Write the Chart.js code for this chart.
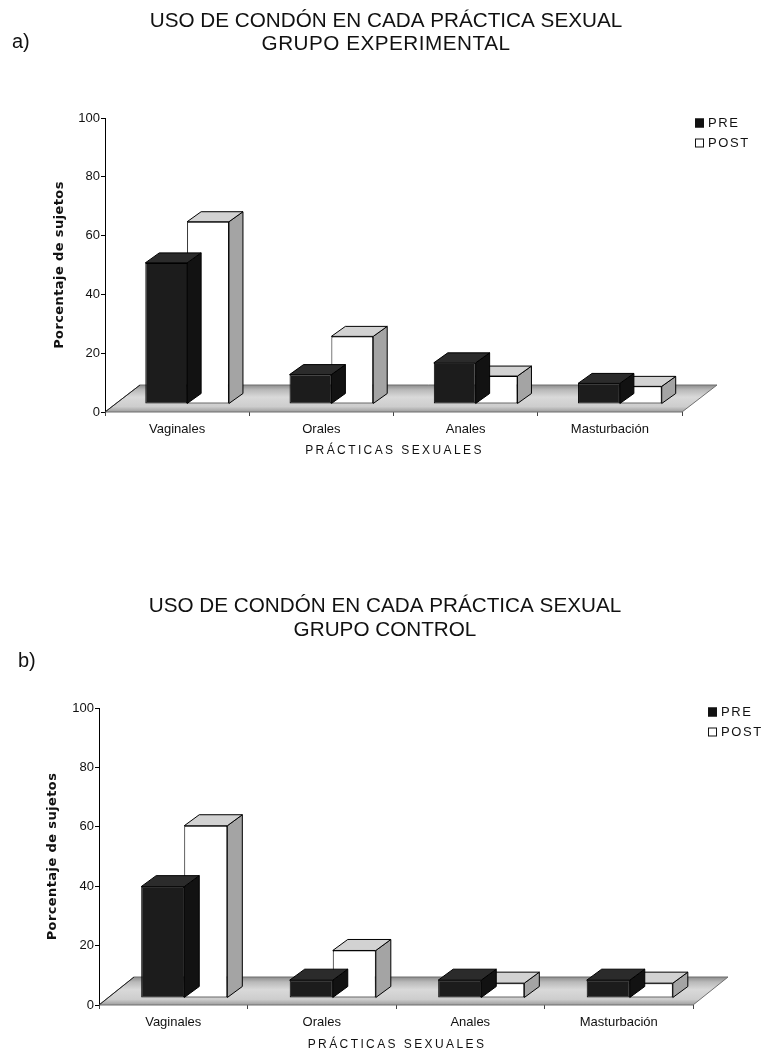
<!DOCTYPE html>
<html>
<head>
<meta charset="utf-8">
<script src="https://cdn.jsdelivr.net/npm/chart.js@4.4.1/dist/chart.umd.min.js"></script>
<style>
  html, body { margin: 0; padding: 0; background: #ffffff; }
  body { position: relative; width: 766px; height: 1054px; overflow: hidden; }
  .panel { position: absolute; left: 0; width: 766px; height: 527px; }
  .tag { position: absolute; font: 20px 'Liberation Sans', Arial, sans-serif; color: #111; }
</style>
</head>
<body>
<div class="panel" style="top:0"><canvas id="grafA" width="766" height="527"></canvas></div>
<div class="panel" style="top:527px"><canvas id="grafB" width="766" height="527"></canvas></div>
<div class="tag" style="left:12px; top:30px;">a)</div>
<div class="tag" style="left:18px; top:649px;">b)</div>
<script>
// Prácticas sexuales evaluadas
const practicas = ['Vaginales', 'Orales', 'Anales', 'Masturbación'];
const serieNombres = ['PRE', 'POST'];

// Porcentaje de sujetos que usa condón (grupo experimental)
const experimentalPre = [48, 10, 14, 7];
const experimentalPost = [62, 23, 9.5, 6];

// Porcentaje de sujetos que usa condón (grupo control)
const controlPre = [37.5, 6, 6, 6];
const controlPost = [58, 16, 5, 5];

// Marcas del eje de porcentaje
const porcentajeTicks = [0, 20, 40, 60, 80, 100];

const tituloComun = 'USO DE CONDÓN EN CADA PRÁCTICA SEXUAL';
const grupos = ['GRUPO EXPERIMENTAL', 'GRUPO CONTROL'];
const ejeX = 'PRÁCTICAS SEXUALES';
const ejeY = 'Porcentaje de sujetos';

const FAMILY = "'Liberation Sans', Arial, sans-serif";

// Oblique 3-D look: floor slab, bar top faces and side faces
const caja3d = {
  id: 'caja3d',
  beforeDatasetsDraw(chart, args, o) {
    const { ctx } = chart;
    const sx = chart.scales.x, sy = chart.scales.y;
    const y0 = sy.getPixelForValue(0);
    const fx = o.floor.x, fy = o.floor.y;
    ctx.save();
    ctx.beginPath();
    ctx.moveTo(sx.left, y0);
    ctx.lineTo(sx.right, y0);
    ctx.lineTo(sx.right + fx, y0 - fy);
    ctx.lineTo(sx.left + fx, y0 - fy);
    ctx.closePath();
    const g = ctx.createLinearGradient(0, y0 - fy, 0, y0);
    g.addColorStop(0, '#8c8c8c');
    g.addColorStop(0.18, '#b9b9b9');
    g.addColorStop(0.45, '#d9d9d9');
    g.addColorStop(0.8, '#cdcdcd');
    g.addColorStop(1, '#9c9c9c');
    ctx.fillStyle = g;
    ctx.fill();
    ctx.strokeStyle = '#6f6f6f';
    ctx.lineWidth = 1;
    ctx.stroke();
    ctx.beginPath();
    ctx.moveTo(sx.left, y0);
    ctx.lineTo(sx.left + fx, y0 - fy);
    ctx.strokeStyle = '#222';
    ctx.stroke();
    ctx.restore();
    // bars stand back from the front edge of the floor
    ctx.save();
    ctx.translate(o.shift.x, -o.shift.y);
  },
  afterDatasetDraw(chart, args, o) {
    const { ctx } = chart;
    const ds = chart.data.datasets[args.index];
    const dx = o.depth.x, dy = o.depth.y;
    args.meta.data.forEach(bar => {
      const p = bar.getProps(['x', 'y', 'base', 'width'], true);
      const l = p.x - p.width / 2, r = p.x + p.width / 2;
      const t = p.y, b = p.base;
      ctx.save();
      ctx.lineWidth = 1;
      ctx.strokeStyle = '#000';
      ctx.lineJoin = 'round';
      // side face
      ctx.beginPath();
      ctx.moveTo(r, t);
      ctx.lineTo(r + dx, t - dy);
      ctx.lineTo(r + dx, b - dy);
      ctx.lineTo(r, b);
      ctx.closePath();
      ctx.fillStyle = ds.sideColor;
      ctx.fill();
      ctx.stroke();
      // top face
      ctx.beginPath();
      ctx.moveTo(l, t);
      ctx.lineTo(l + dx, t - dy);
      ctx.lineTo(r + dx, t - dy);
      ctx.lineTo(r, t);
      ctx.closePath();
      ctx.fillStyle = ds.topColor;
      ctx.fill();
      ctx.stroke();
      ctx.restore();
    });
  },
  afterDatasetsDraw(chart) {
    chart.ctx.restore();
  }
};

// Two-line heading, axis titles and the small legend at the upper right
const rotulos = {
  id: 'rotulos',
  afterDraw(chart, args, o) {
    const { ctx, chartArea } = chart;
    const sx = chart.scales.x;
    ctx.save();
    ctx.fillStyle = '#111';
    ctx.textAlign = 'center';
    ctx.textBaseline = 'middle';
    // heading
    ctx.font = '20.7px ' + FAMILY;
    ctx.letterSpacing = '0px';
    ctx.fillText(o.heading[0], o.headingX, o.headingY[0]);
    ctx.letterSpacing = o.headingSpacing + 'px';
    ctx.fillText(o.heading[1], o.headingX, o.headingY[1]);
    // value axis title
    ctx.font = "bold 13px 'DejaVu Sans', Verdana, sans-serif";
    ctx.letterSpacing = '0.4px';
    ctx.save();
    ctx.translate(o.yTitleX, (chartArea.top + chartArea.bottom) / 2);
    ctx.rotate(-Math.PI / 2);
    ctx.fillText(ejeY, 0, 0);
    ctx.restore();
    // category axis title
    ctx.font = '12px ' + FAMILY;
    ctx.letterSpacing = '2.4px';
    ctx.fillText(ejeX, (sx.left + sx.right) / 2 + 1, o.xTitleY);
    // legend
    ctx.font = '13px ' + FAMILY;
    ctx.letterSpacing = '1.6px';
    ctx.textAlign = 'left';
    chart.data.datasets.forEach((ds, i) => {
      const yy = o.legend.y + i * o.legend.gap;
      ctx.fillStyle = ds.legendFill;
      ctx.fillRect(o.legend.x, yy - 4.5, 9, 9);
      ctx.strokeStyle = '#111';
      ctx.lineWidth = 1;
      ctx.strokeRect(o.legend.x + 0.5, yy - 4, 8, 8);
      ctx.fillStyle = '#111';
      ctx.fillText(ds.label, o.legend.x + 13, yy + 0.5);
    });
    ctx.restore();
  }
};

function crearGrafico(id, grupo, pre, post, L) {
  const tickFont = { family: FAMILY, size: 13 };
  return new Chart(document.getElementById(id), {
    type: 'bar',
    data: {
      labels: practicas,
      datasets: [
        {
          label: serieNombres[0], data: pre,
          backgroundColor: '#1c1c1c', borderColor: '#000', borderWidth: 1,
          topColor: '#2b2b2b', sideColor: '#121212', legendFill: '#111'
        },
        {
          label: serieNombres[1], data: post,
          backgroundColor: '#ffffff', borderColor: '#000', borderWidth: 1,
          topColor: '#d2d2d2', sideColor: '#a4a4a4', legendFill: '#ffffff'
        }
      ]
    },
    options: {
      responsive: false,
      animation: false,
      devicePixelRatio: 1,
      layout: { padding: { left: L.padL, right: L.padR, top: L.padT, bottom: L.padB } },
      datasets: {
        bar: { categoryPercentage: 0.58, barPercentage: 1, borderSkipped: false, clip: false }
      },
      scales: {
        x: {
          offset: true,
          border: { display: false },
          grid: { display: true, offset: true, drawOnChartArea: false, drawTicks: true, tickLength: 4, color: '#444' },
          ticks: { font: tickFont, color: '#111', padding: 6, maxRotation: 0 },
          afterFit: s => { s.height = L.xH; }
        },
        y: {
          min: 0, max: 100,
          border: { display: true, color: '#000', width: 1 },
          grid: { drawOnChartArea: false, drawTicks: true, tickLength: 4, color: '#000' },
          ticks: { font: tickFont, color: '#111', padding: 1 },
          afterBuildTicks: s => { s.ticks = porcentajeTicks.map(v => ({ value: v })); },
          afterFit: s => { s.width = L.yW; }
        }
      },
      plugins: {
        legend: { display: false },
        tooltip: { enabled: false },
        title: { display: false },
        caja3d: { shift: L.shift, depth: L.depth, floor: L.floor },
        rotulos: {
          heading: [tituloComun, grupo], headingX: L.headingX, headingY: L.headingY,
          headingSpacing: L.headingSpacing,
          yTitleX: L.yTitleX, xTitleY: L.xTitleY, legend: L.legend
        }
      }
    },
    plugins: [caja3d, rotulos]
  });
}

crearGrafico('grafA', grupos[0], experimentalPre, experimentalPost, {
  padL: 60, padR: 84, padT: 118, padB: 85, yW: 45, xH: 30,
  headingX: 386, headingY: [21, 44], headingSpacing: 0.5,
  shift: { x: 10, y: 8 }, depth: { x: 14, y: 10 }, floor: { x: 35, y: 27 },
  yTitleX: 60, xTitleY: 451,
  legend: { x: 695, y: 123, gap: 20 }
});

crearGrafico('grafB', grupos[1], controlPre, controlPost, {
  padL: 54, padR: 73, padT: 181, padB: 19, yW: 45, xH: 30,
  headingX: 385, headingY: [79, 103], headingSpacing: 0,
  shift: { x: 11, y: 7 }, depth: { x: 15, y: 11 }, floor: { x: 35, y: 28 },
  yTitleX: 53, xTitleY: 518,
  legend: { x: 708, y: 185, gap: 20 }
});
</script>
</body>
</html>
